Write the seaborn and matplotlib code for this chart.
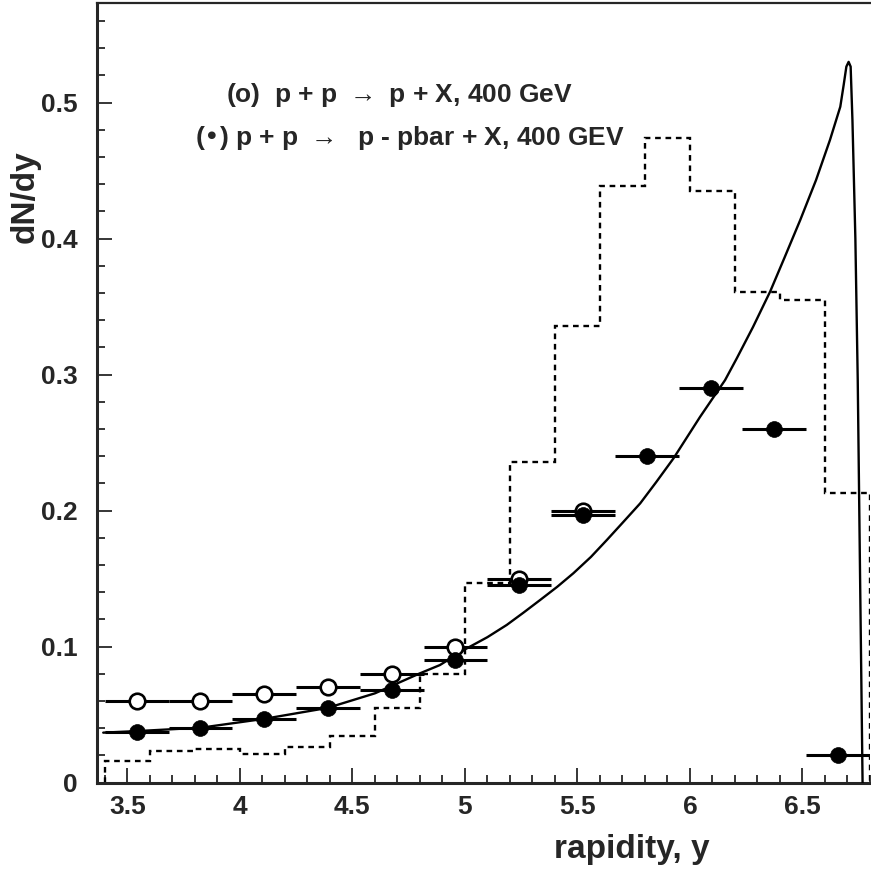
import matplotlib
matplotlib.use("Agg")
import matplotlib.pyplot as plt
import seaborn as sns
import numpy as np
from matplotlib.ticker import MultipleLocator, FuncFormatter

# ---- data ----
bin_centers = [3.542, 3.825, 4.108, 4.392, 4.675, 4.958, 5.242, 5.525, 5.808, 6.092, 6.375, 6.658]
bin_halfwidth = 0.1417
open_y = [0.060, 0.060, 0.065, 0.070, 0.080, 0.100, 0.150, 0.200]          # p+p -> p+X
filled_y = [0.0375, 0.040, 0.047, 0.055, 0.068, 0.090, 0.145, 0.197,
            0.240, 0.290, 0.260, 0.020]                                   # p+p -> p-pbar+X

hist_edges = [3.4, 3.6, 3.8, 4.0, 4.2, 4.4, 4.6, 4.8, 5.0, 5.2, 5.4, 5.6,
              5.8, 6.0, 6.2, 6.4, 6.6, 6.8]
hist_vals = [0.016, 0.023, 0.025, 0.021, 0.026, 0.034, 0.055, 0.080, 0.147,
             0.236, 0.336, 0.439, 0.474, 0.435, 0.361, 0.355, 0.213]

curve_x = [3.393, 3.55, 3.83, 4.11, 4.39, 4.6, 4.8, 4.889, 5.0, 5.1, 5.186, 5.26, 5.334,
           5.41, 5.482, 5.56, 5.631, 5.70, 5.779, 5.85, 5.927, 6.045, 6.156, 6.208, 6.28,
           6.356, 6.42, 6.49, 6.56, 6.622, 6.668, 6.683, 6.695, 6.705, 6.714, 6.722,
           6.735, 6.7455, 6.756, 6.767]
curve_y = [0.0368, 0.038, 0.0405, 0.047, 0.055, 0.0657, 0.0804, 0.0865, 0.098, 0.107,
           0.116, 0.125, 0.1343, 0.144, 0.154, 0.166, 0.1785, 0.191, 0.2054, 0.221,
           0.2385, 0.269, 0.296, 0.312, 0.335, 0.361, 0.386, 0.4137, 0.443, 0.4725,
           0.497, 0.513, 0.5265, 0.530, 0.5265, 0.487, 0.40, 0.296, 0.15, 0.0]

legend_lines = [r"(o)  p + p $\rightarrow$ p + X, 400 GeV",
                "(\u2022) p + p " + r"$\rightarrow$" + "  p - pbar + X, 400 GEV"]

sns.set_style("ticks")
plt.rcParams['font.family'] = ['Liberation Sans', 'DejaVu Sans']
plt.rcParams['font.weight'] = 'bold'
plt.rcParams['mathtext.default'] = 'regular'

fig = plt.figure(figsize=(8.71, 8.71), dpi=100)
ax = fig.add_axes([96.7/871, 1-782.7/871, (870-96.7)/871, 780/871])

# dashed histogram
ax.stairs(hist_vals, hist_edges, baseline=0, fill=False, color='black',
          linewidth=1.7, linestyle=(0, (2.4, 2.0)))

# theory curve
sns.lineplot(x=curve_x, y=curve_y, sort=False, color='black', linewidth=1.7,
             ax=ax, zorder=3)

n_open = len(open_y)
# horizontal error bars
ax.errorbar(bin_centers[:n_open], open_y, xerr=bin_halfwidth, fmt='none',
            ecolor='black', elinewidth=2.2, capsize=0, zorder=4)
ax.errorbar(bin_centers, filled_y, xerr=bin_halfwidth, fmt='none',
            ecolor='black', elinewidth=2.2, capsize=0, zorder=4)

# markers
sns.scatterplot(x=bin_centers[:n_open], y=open_y, ax=ax, marker='o', s=125,
                facecolor='white', edgecolor='black', linewidth=1.9, zorder=5)
sns.scatterplot(x=bin_centers, y=filled_y, ax=ax, marker='o', s=130,
                color='black', edgecolor='black', linewidth=0.5, zorder=6)

ax.set_xlim(3.364, 6.8)
ax.set_ylim(0, 0.5735)

ax.xaxis.set_major_locator(MultipleLocator(0.5))
ax.xaxis.set_minor_locator(MultipleLocator(0.1))
ax.yaxis.set_major_locator(MultipleLocator(0.1))
ax.yaxis.set_minor_locator(MultipleLocator(0.02))
ax.xaxis.set_major_formatter(FuncFormatter(lambda v, p: f"{v:g}"))
ax.yaxis.set_major_formatter(FuncFormatter(lambda v, p: f"{v:g}"))

ax.tick_params(axis='both', which='major', direction='in', length=11, width=1.3,
               labelsize=19)
ax.tick_params(axis='both', which='minor', direction='in', length=5.5, width=1.3)
ax.tick_params(axis='y', which='major', pad=14)
ax.tick_params(axis='x', which='major', pad=9)
for lab in ax.get_xticklabels() + ax.get_yticklabels():
    lab.set_fontweight('bold')

for s in ['left', 'bottom']:
    ax.spines[s].set_linewidth(2.2)
ax.spines['top'].set_linewidth(1.6)
ax.spines['right'].set_visible(False)

ax.set_xlabel("rapidity, y", fontsize=24, fontweight='bold')
ax.xaxis.set_label_coords(0.692, -0.066)
ax.set_ylabel("dN/dy", fontsize=24, fontweight='bold')
ax.yaxis.set_label_coords(-0.073, 0.752)

ax.text(0.392, 0.8817, legend_lines[0], transform=ax.transAxes, fontsize=19,
        fontweight='bold', ha='center', va='center')
ax.text(0.405, 0.8265, legend_lines[1], transform=ax.transAxes, fontsize=19,
        fontweight='bold', ha='center', va='center')

fig.savefig("out.png", dpi=100)
